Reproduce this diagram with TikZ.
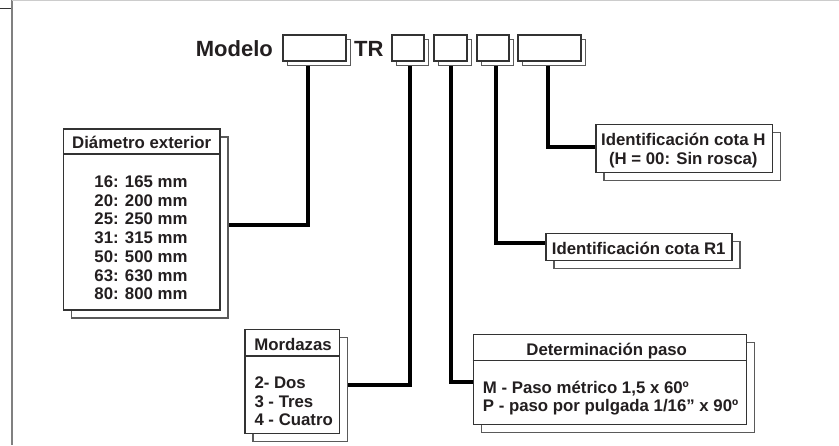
\documentclass[tikz,border=0pt]{standalone}
\usepackage{fontspec}
\setmainfont{Liberation Sans}
\usetikzlibrary{calc}
\definecolor{ink}{HTML}{231F20}
\definecolor{edge}{HTML}{333333}
\definecolor{shade}{HTML}{5A5A5A}
\begin{document}
\begin{tikzpicture}[x=1pt,y=-1pt,
  box/.style 2 args={draw=edge,line width=1.2pt,fill=white,inner sep=0pt,minimum width=#1,minimum height=#2},
  sbox/.style 2 args={draw=shade,line width=1.2pt,fill=white,inner sep=0pt,minimum width=#1,minimum height=#2},
  txt/.style={font=\bfseries\fontsize{16.8}{18.7}\selectfont,text=ink,inner sep=0pt},
  big/.style={font=\bfseries\fontsize{22}{26}\selectfont,text=ink,inner sep=0pt},
  conn/.style={line width=3.8pt,black},
  sep/.style={draw=edge,line width=1.2pt}]
\useasboundingbox (0,0) rectangle (839,445);
% frame
\draw[black!50,line width=1.7pt] (12,0) -- (12,445);
\draw[black!20,line width=1pt] (12,0.5) -- (839,0.5);
\draw[edge,line width=0.9pt] (0,8) -- (11,8);

% top line
\node[big,anchor=base east] (modelo) at (273,56) {Modelo};
\node[big,anchor=base west] (tr) at (354,56) {TR};
\node[sbox={63}{26}] (b1s) at (319,52.5) {};
\node[box={63}{26}] (b1) at (314.5,48) {};
\node[sbox={32}{26}] (b2s) at (412.5,52.5) {};
\node[box={32}{26}] (b2) at (408,48) {};
\node[sbox={33}{26}] (b3s) at (455,52.5) {};
\node[box={33}{26}] (b3) at (450.5,48) {};
\node[sbox={32}{26}] (b4s) at (497.5,52.5) {};
\node[box={32}{26}] (b4) at (493,48) {};
\node[sbox={63}{26}] (b5s) at (554,52.5) {};
\node[box={63}{26}] (b5) at (549.5,48) {};

% Diametro exterior
\node[sbox={156.7}{181}] (diams) at (149.7,227.5) {};
\node[box={156.7}{181}] (diam) at (141.7,219.5) {};
\draw[sep] (diam.west |- 0,154) -- (diam.east |- 0,154);
\node[txt,anchor=base] (diamh) at (141.7,148.3) {Diámetro exterior};
\foreach \t [count=\i from 0] in {16: 165 mm,20: 200 mm,25: 250 mm,31: 315 mm,50: 500 mm,63: 630 mm,80: 800 mm}
  \node[txt,anchor=base] (d\i) at (141,187.5+18.7*\i) {\t};

% Mordazas
\node[sbox={94.3}{104}] (mords) at (300.2,389.3) {};
\node[box={94.3}{104}] (mord) at (292.2,381.3) {};
\draw[sep] (mord.west |- 0,356) -- (mord.east |- 0,356);
\node[txt,anchor=base] (mordh) at (293,350) {Mordazas};
\node[txt,anchor=base west] (m1) at (254.3,388.3) {2- Dos};
\node[txt,anchor=base west] (m2) at (254.3,407) {3 - Tres};
\node[txt,anchor=base west] (m3) at (254.3,425.7) {4 - Cuatro};

% Determinacion paso
\node[sbox={273.4}{90}] (dets) at (618,387.3) {};
\node[box={273.4}{90}] (det) at (610,379.3) {};
\draw[sep] (det.west |- 0,360.7) -- (det.east |- 0,360.7);
\node[txt,anchor=base] (deth) at (606.7,355) {Determinación paso};
\node[txt,anchor=base west] (p1) at (482.7,393.3) {M - Paso métrico 1,5 x 60º};
\node[txt,anchor=base west] (p2) at (482.7,411.7) {P - paso por pulgada 1/16” x 90º};

% Identificacion cota R1
\node[sbox={186}{27.4}] (r1s) at (647,255) {};
\node[box={186}{27.4}] (r1) at (639,247) {};
\node[txt,anchor=base] (r1t) at (638.7,254) {Identificación cota R1};

% Identificacion cota H
\node[sbox={176.3}{48}] (hs) at (692.2,156.3) {};
\node[box={176.3}{48}] (h) at (684.2,148.3) {};
\node[txt,anchor=base] (h1) at (683.3,145) {Identificación cota H};
\node[txt,anchor=base] (h2) at (683.3,164.3) {(H = 00: Sin rosca)};

% connectors
\coordinate (k1) at (308,225);
\coordinate (k2) at (410,385);
\coordinate (k3) at (451,382);
\coordinate (k4) at (496,243);
\coordinate (k5) at (548,147);
\draw[conn] (b1s.south -| k1) |- (diams.east |- k1);
\draw[conn] (b2s.south -| k2) |- (mords.east |- k2);
\draw[conn] (b3s.south -| k3) |- (det.west |- k3);
\draw[conn] (b4s.south -| k4) |- (r1.west |- k4);
\draw[conn] (b5s.south -| k5) |- (h.west |- k5);
\end{tikzpicture}
\end{document}
